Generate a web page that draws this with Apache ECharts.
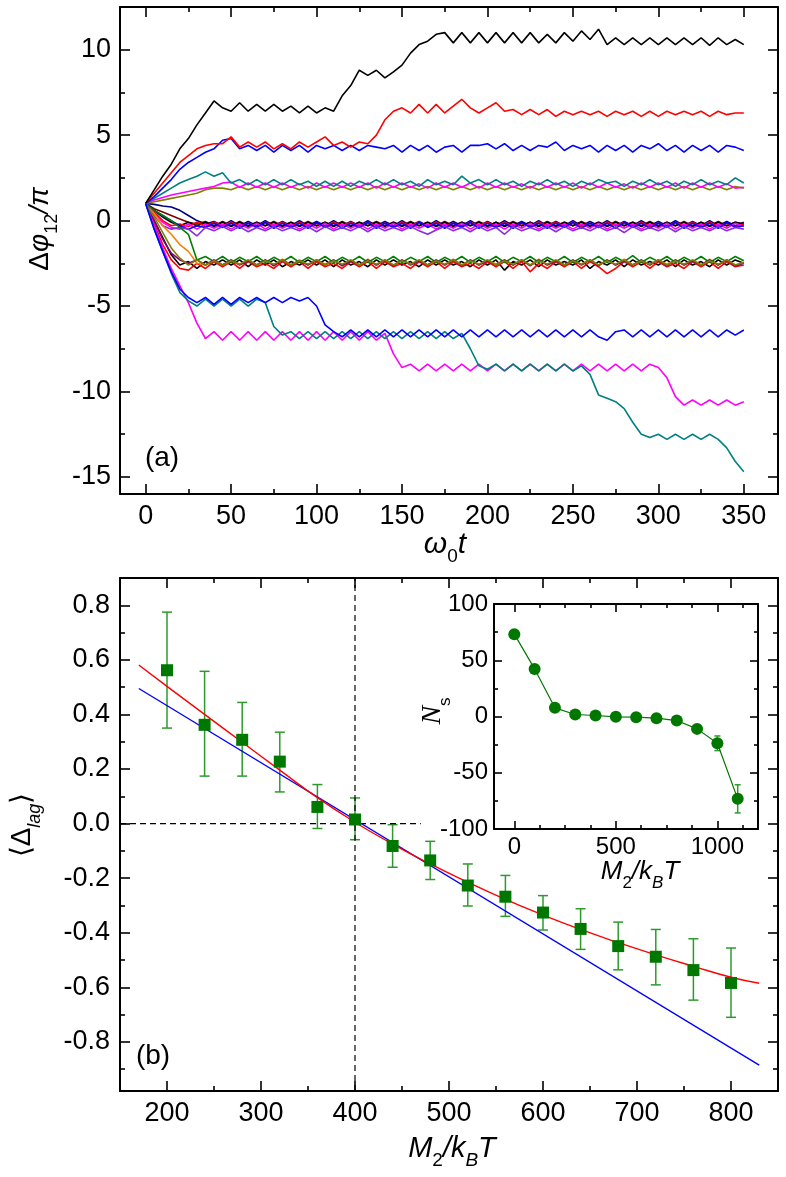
<!DOCTYPE html>
<html>
<head>
<meta charset="utf-8">
<script src="https://cdn.jsdelivr.net/npm/echarts@6/dist/echarts.min.js"></script>
<style>
html, body { margin: 0; padding: 0; background: #fff; }
#main { width: 786px; height: 1177px; }
</style>
</head>
<body>
<div id="main"></div>
<script>
// ---- panel (a): phase difference trajectories, sampled every 5 time units ----
const tGrid = [0,5,10,15,20,25,30,35,40,45,50,55,60,65,70,75,80,85,90,95,100,105,110,115,120,125,130,135,140,145,150,155,160,165,170,175,180,185,190,195,200,205,210,215,220,225,230,235,240,245,250,255,260,265,270,275,280,285,290,295,300,305,310,315,320,325,330,335,340,345,350];

const trajTopBlack = [
  1.0,1.8,2.6,3.3,4.2,4.8,5.6,6.3,7.0,6.6,
  6.4,6.9,6.4,6.8,6.4,6.8,6.4,6.7,6.3,6.7,
  6.3,6.6,6.4,7.3,7.9,8.8,8.5,8.8,8.35,8.7,
  9.1,9.8,10.3,10.5,10.9,11.0,10.4,11.0,10.4,11.0,
  10.4,11.0,10.4,11.0,10.4,11.0,10.4,10.9,10.4,11.0,
  10.5,11.1,10.6,11.2,10.3,10.7,10.3,10.7,10.3,10.7,
  10.3,10.7,10.3,10.7,10.3,10.7,10.25,10.7,10.3,10.6,
  10.3];
const trajTopRed = [
  1.0,1.6,2.2,2.8,3.4,3.8,4.2,4.4,4.5,4.5,
  4.9,4.3,4.6,4.3,4.6,4.2,4.5,4.2,4.6,4.3,
  4.6,4.9,4.4,4.6,4.3,4.6,4.5,5.0,5.9,6.4,
  6.6,6.3,6.8,6.3,6.8,6.3,6.7,7.1,6.6,6.3,
  6.6,6.9,6.4,6.5,6.2,6.5,6.2,6.5,6.1,6.4,
  6.2,6.4,6.2,6.4,6.1,6.4,6.2,6.4,6.1,6.4,
  6.1,6.4,6.2,6.4,6.2,6.4,6.1,6.4,6.2,6.3,
  6.3];
const trajTopBlue = [
  1.0,1.4,1.9,2.4,3.0,3.4,3.7,4.0,4.2,4.7,
  4.8,4.2,4.4,4.1,4.4,4.0,4.4,4.1,4.4,4.0,
  4.4,4.2,4.4,4.1,4.4,4.1,4.4,4.3,4.2,4.4,
  4.0,4.4,4.1,4.4,4.0,4.3,4.4,4.0,4.4,4.4,
  4.5,4.2,4.5,4.1,4.4,4.1,4.4,4.3,4.6,4.1,
  4.4,4.2,4.4,4.0,4.4,4.1,4.4,4.0,4.4,4.2,
  4.5,4.1,4.4,4.0,4.4,4.1,4.4,4.0,4.4,4.3,
  4.1];
const trajTopTeal = [
  1.0,1.3,1.6,1.9,2.2,2.4,2.6,2.85,2.6,2.8,
  2.2,2.4,2.1,2.4,2.1,2.4,2.1,2.4,2.1,2.3,
  2.0,2.3,2.0,2.3,2.0,2.3,2.1,2.4,2.1,2.4,
  2.1,2.3,2.0,2.4,2.1,2.3,2.1,2.6,2.2,2.4,
  2.1,2.4,2.1,2.3,2.0,2.3,2.1,2.4,2.1,2.3,
  2.0,2.3,2.1,2.4,2.2,2.3,2.0,2.3,2.1,2.4,
  2.1,2.3,2.0,2.3,2.1,2.4,2.1,2.3,2.1,2.5,
  2.2];
const trajTopMagenta = [
  1.0,1.2,1.35,1.5,1.6,1.7,1.8,1.9,2.0,2.2,
  2.25,1.95,2.2,1.95,2.2,1.95,2.2,1.95,2.15,1.9,
  2.2,1.95,2.2,1.95,2.2,1.95,2.2,1.9,2.2,1.95,
  2.2,1.95,2.15,1.9,2.2,1.95,2.2,1.95,2.2,1.9,
  2.2,1.95,2.2,1.95,2.15,1.9,2.2,1.95,2.2,1.95,
  2.2,1.9,2.2,1.95,2.2,1.95,2.15,1.9,2.2,1.95,
  2.2,1.95,2.2,1.9,2.2,1.95,2.2,1.95,2.15,1.9,
  1.95];
const trajTopOlive = [
  1.0,1.1,1.2,1.3,1.4,1.5,1.6,1.8,1.9,1.9,
  1.8,2.0,1.8,2.0,1.8,2.0,1.8,2.0,1.8,2.0,
  1.8,2.0,1.8,2.0,1.8,2.0,1.8,2.0,1.8,2.0,
  1.8,2.0,1.8,2.0,1.8,2.0,1.8,2.0,1.8,2.0,
  1.8,2.0,1.8,2.0,1.8,2.0,1.8,2.0,1.8,2.0,
  1.8,2.0,1.8,2.0,1.8,2.0,1.8,2.0,1.8,2.0,
  1.8,2.0,1.8,2.0,1.8,2.0,1.8,2.0,1.8,2.0,
  1.9];

const trajZeroNavy = [
  1.0,0.95,0.85,0.8,0.6,0.3,0.0,-0.2,-0.05,-0.3,
  0.0,-0.3,-0.05,-0.3,0.0,-0.3,-0.05,-0.3,0.0,-0.3,
  -0.05,-0.3,0.0,-0.3,-0.05,-0.3,0.0,-0.3,-0.05,-0.3,
  0.0,-0.3,-0.05,-0.3,0.0,-0.3,-0.05,-0.3,0.0,-0.3,
  -0.05,-0.3,0.0,-0.3,-0.05,-0.3,0.0,-0.3,-0.05,-0.3,
  0.0,-0.3,-0.05,-0.3,0.0,-0.3,-0.05,-0.3,0.0,-0.3,
  -0.05,-0.3,0.0,-0.3,-0.05,-0.3,0.0,-0.3,-0.05,-0.3,
  -0.1];
const trajZeroMaroon = [
  1.0,0.7,0.5,0.3,0.1,-0.1,-0.2,-0.05,-0.3,-0.05,
  -0.3,-0.05,-0.3,-0.1,-0.3,-0.05,-0.3,-0.1,-0.3,-0.05,
  -0.3,-0.1,-0.3,-0.05,-0.3,-0.1,-0.3,-0.05,-0.3,-0.1,
  -0.3,-0.05,-0.3,-0.1,-0.3,-0.05,-0.3,-0.1,-0.3,-0.05,
  -0.3,-0.1,-0.3,-0.05,-0.3,-0.1,-0.3,-0.05,-0.3,-0.1,
  -0.3,-0.05,-0.3,-0.1,-0.3,-0.05,-0.3,-0.1,-0.3,-0.05,
  -0.3,-0.1,-0.3,-0.05,-0.3,-0.1,-0.3,-0.05,-0.3,-0.1,
  -0.2];
const trajZeroBlack = [
  1.0,0.6,0.2,-0.1,-0.3,-0.1,-0.3,-0.1,-0.35,-0.1,
  -0.35,-0.1,-0.35,-0.1,-0.3,-0.1,-0.35,-0.1,-0.35,-0.1,
  -0.3,-0.1,-0.35,-0.1,-0.35,-0.1,-0.3,-0.1,-0.35,-0.1,
  -0.35,-0.1,-0.3,-0.1,-0.35,-0.1,-0.35,-0.1,-0.3,-0.1,
  -0.35,-0.1,-0.35,-0.1,-0.3,-0.1,-0.35,-0.1,-0.35,-0.1,
  -0.3,-0.1,-0.35,-0.1,-0.35,-0.1,-0.3,-0.1,-0.35,-0.1,
  -0.35,-0.1,-0.3,-0.1,-0.35,-0.1,-0.35,-0.1,-0.3,-0.1,
  -0.2];
const trajZeroRed = [
  1.0,0.5,0.0,-0.3,-0.2,-0.35,-0.1,-0.35,-0.1,-0.3,
  -0.1,-0.35,-0.15,-0.35,-0.1,-0.3,-0.1,-0.35,-0.1,-0.35,
  -0.15,-0.35,-0.1,-0.3,-0.1,-0.35,-0.1,-0.35,-0.15,-0.35,
  -0.1,-0.3,-0.1,-0.35,-0.1,-0.35,-0.15,-0.35,-0.1,-0.3,
  -0.1,-0.35,-0.1,-0.35,-0.15,-0.35,-0.1,-0.3,-0.1,-0.35,
  -0.1,-0.35,-0.15,-0.35,-0.1,-0.3,-0.1,-0.35,-0.1,-0.35,
  -0.15,-0.35,-0.1,-0.3,-0.1,-0.35,-0.1,-0.35,-0.15,-0.35,
  -0.2];
const trajZeroMagenta = [
  1.0,0.4,-0.1,-0.4,-0.5,-0.2,-0.5,-0.2,-0.45,-0.2,
  -0.5,-0.2,-0.45,-0.15,-0.5,-0.2,-0.45,-0.2,-0.5,-0.2,
  -0.45,-0.15,-0.5,-0.2,-0.45,-0.2,-0.5,-0.2,-0.45,-0.15,
  -0.5,-0.2,-0.45,-0.2,-0.5,-0.2,-0.45,-0.15,-0.5,-0.2,
  -0.45,-0.2,-0.5,-0.2,-0.45,-0.15,-0.5,-0.2,-0.45,-0.2,
  -0.5,-0.2,-0.45,-0.15,-0.5,-0.2,-0.45,-0.2,-0.5,-0.2,
  -0.45,-0.15,-0.5,-0.2,-0.45,-0.2,-0.5,-0.2,-0.45,-0.15,
  -0.35];
const trajZeroBlue = [
  1.0,0.6,0.3,0.0,-0.3,-0.5,-0.3,-0.4,-0.15,-0.4,
  -0.15,-0.45,-0.15,-0.4,-0.1,-0.45,-0.15,-0.4,-0.15,-0.45,
  -0.1,-0.4,-0.15,-0.45,-0.15,-0.4,-0.1,-0.45,-0.15,-0.4,
  -0.15,-0.45,-0.1,-0.4,-0.15,-0.45,-0.15,-0.4,-0.1,-0.45,
  -0.15,-0.4,-0.15,-0.45,-0.1,-0.4,-0.15,-0.45,-0.15,-0.4,
  -0.1,-0.45,-0.15,-0.4,-0.15,-0.45,-0.1,-0.4,-0.15,-0.45,
  -0.15,-0.4,-0.1,-0.45,-0.15,-0.4,-0.15,-0.45,-0.1,-0.4,
  -0.3];
const trajZeroViolet = [
  1.0,0.3,-0.3,-0.5,-0.4,-0.5,-0.9,-0.4,-0.6,-0.35,
  -0.6,-0.35,-0.65,-0.4,-0.6,-0.35,-0.6,-0.4,-0.6,-0.35,
  -0.65,-0.35,-0.6,-0.4,-0.6,-0.35,-0.65,-0.35,-0.6,-0.4,
  -0.6,-0.35,-0.6,-0.8,-0.55,-0.35,-0.6,-0.4,-0.65,-0.35,
  -0.6,-0.4,-0.8,-0.35,-0.6,-0.4,-0.6,-0.35,-0.65,-0.35,
  -0.6,-0.4,-0.6,-0.35,-0.6,-0.4,-0.7,-0.35,-0.6,-0.4,
  -0.6,-0.35,-0.65,-0.35,-0.6,-0.4,-0.6,-0.35,-0.6,-0.4,
  -0.5];

const trajMinusBlack = [
  1.0,0.0,-1.0,-2.0,-2.6,-2.4,-2.8,-2.4,-2.6,-2.3,
  -2.6,-2.3,-2.7,-2.3,-2.6,-2.3,-2.7,-2.4,-2.6,-2.3,
  -2.6,-2.3,-2.7,-2.3,-2.6,-2.4,-2.7,-2.3,-2.6,-2.3,
  -2.6,-2.4,-2.7,-2.3,-2.6,-2.3,-2.6,-2.4,-2.7,-2.3,
  -2.6,-2.3,-2.9,-2.4,-2.6,-2.3,-2.7,-2.3,-2.6,-2.4,
  -2.6,-2.3,-2.8,-2.4,-2.6,-2.3,-2.7,-2.3,-2.6,-2.4,
  -2.6,-2.3,-2.7,-2.3,-2.6,-2.4,-2.7,-2.3,-2.6,-2.3,
  -2.5];
const trajMinusRed = [
  1.0,-0.2,-1.4,-2.3,-2.8,-2.9,-2.5,-2.8,-2.4,-2.7,
  -2.4,-2.8,-2.4,-2.7,-2.5,-2.8,-2.4,-2.7,-2.4,-2.8,
  -2.4,-2.7,-2.5,-2.8,-2.4,-2.7,-2.4,-2.8,-2.4,-2.7,
  -2.5,-2.8,-2.4,-2.7,-2.4,-2.8,-2.4,-2.7,-2.5,-2.8,
  -2.4,-2.7,-2.4,-2.8,-2.4,-3.0,-2.5,-2.8,-2.4,-2.7,
  -2.4,-2.8,-2.4,-2.7,-3.1,-2.8,-2.4,-2.7,-2.4,-2.8,
  -2.4,-2.7,-2.5,-2.8,-2.4,-2.7,-2.4,-2.8,-2.4,-2.7,
  -2.6];
const trajMinusOrange = [
  1.0,0.4,-0.3,-0.8,-1.4,-1.8,-2.5,-2.6,-2.3,-2.6,
  -2.3,-2.55,-2.3,-2.6,-2.3,-2.6,-2.25,-2.6,-2.3,-2.6,
  -2.3,-2.55,-2.3,-2.6,-2.3,-2.6,-2.25,-2.6,-2.3,-2.6,
  -2.3,-2.55,-2.3,-2.6,-2.3,-2.6,-2.25,-2.6,-2.3,-2.6,
  -2.3,-2.55,-2.3,-2.6,-2.3,-2.6,-2.25,-2.6,-2.3,-2.6,
  -2.3,-2.55,-2.3,-2.6,-2.3,-2.6,-2.25,-2.6,-2.3,-2.6,
  -2.3,-2.55,-2.3,-2.6,-2.3,-2.6,-2.25,-2.6,-2.3,-2.6,
  -2.45];
const trajMinusGreen = [
  1.0,0.6,0.3,0.0,-0.4,-0.8,-2.3,-2.1,-2.4,-2.1,
  -2.45,-2.15,-2.4,-2.1,-2.45,-2.15,-2.4,-2.1,-2.45,-2.15,
  -2.4,-2.1,-2.45,-2.15,-2.4,-2.1,-2.45,-2.15,-2.4,-2.1,
  -2.45,-2.15,-2.4,-2.1,-2.45,-2.15,-2.4,-2.1,-2.45,-2.15,
  -2.4,-2.1,-2.45,-2.15,-2.4,-2.1,-2.45,-2.15,-2.4,-2.1,
  -2.45,-2.15,-2.4,-2.1,-2.45,-2.15,-2.4,-2.05,-2.45,-2.15,
  -2.4,-2.1,-2.45,-2.15,-2.4,-2.1,-2.45,-2.15,-2.4,-2.1,
  -2.35];
const trajMinusPurple = [
  1.0,0.0,-1.1,-1.9,-2.3,-2.5,-2.3,-2.6,-2.3,-2.6,
  -2.3,-2.6,-2.35,-2.6,-2.3,-2.65,-2.3,-2.6,-2.35,-2.6,
  -2.3,-2.6,-2.3,-2.65,-2.35,-2.6,-2.3,-2.6,-2.3,-2.65,
  -2.3,-2.6,-2.35,-2.6,-2.3,-2.6,-2.3,-2.65,-2.3,-2.6,
  -2.35,-2.6,-2.3,-2.6,-2.3,-2.65,-2.3,-2.6,-2.35,-2.6,
  -2.3,-2.6,-2.3,-2.65,-2.3,-2.6,-2.35,-2.6,-2.3,-2.6,
  -2.3,-2.65,-2.3,-2.6,-2.35,-2.6,-2.3,-2.6,-2.3,-2.65,
  -2.5];
const trajMinusOlive = [
  1.0,0.2,-0.7,-1.6,-2.2,-2.6,-2.3,-2.6,-2.35,-2.6,
  -2.35,-2.55,-2.3,-2.6,-2.35,-2.55,-2.3,-2.6,-2.35,-2.55,
  -2.3,-2.6,-2.35,-2.55,-2.3,-2.6,-2.35,-2.55,-2.3,-2.6,
  -2.35,-2.55,-2.3,-2.6,-2.35,-2.55,-2.3,-2.6,-2.35,-2.55,
  -2.3,-2.6,-2.35,-2.55,-2.3,-2.6,-2.35,-2.55,-2.3,-2.6,
  -2.35,-2.55,-2.3,-2.6,-2.35,-2.55,-2.3,-2.6,-2.35,-2.55,
  -2.3,-2.6,-2.35,-2.55,-2.3,-2.6,-2.35,-2.55,-2.3,-2.6,
  -2.45];

const trajLowBlue = [
  1.0,-0.5,-1.8,-3.0,-4.0,-4.5,-4.8,-4.5,-4.9,-4.5,
  -4.9,-4.5,-4.8,-4.5,-4.8,-4.5,-4.8,-4.5,-4.7,-4.5,
  -5.0,-6.1,-6.5,-6.8,-6.4,-6.8,-6.4,-6.8,-6.4,-6.8,
  -6.4,-6.8,-6.4,-6.8,-6.4,-6.8,-6.4,-6.8,-6.4,-6.8,
  -6.4,-6.8,-6.4,-6.8,-6.4,-6.8,-6.4,-6.8,-6.4,-6.8,
  -6.4,-6.8,-6.4,-6.8,-7.0,-6.5,-6.4,-6.8,-6.4,-6.8,
  -6.4,-6.8,-6.4,-6.8,-6.4,-6.8,-6.4,-6.8,-6.4,-6.7,
  -6.4];
const trajLowTeal = [
  1.0,-0.5,-1.8,-3.1,-4.2,-4.7,-5.0,-4.6,-5.0,-4.6,
  -5.0,-4.6,-5.0,-4.6,-4.8,-6.2,-6.7,-6.5,-6.9,-6.5,
  -6.9,-6.5,-6.9,-6.5,-6.9,-6.5,-6.9,-6.5,-6.9,-6.5,
  -6.9,-6.5,-6.9,-6.5,-6.9,-6.5,-6.9,-6.6,-7.5,-8.5,
  -8.7,-8.4,-8.8,-8.4,-8.8,-8.4,-8.8,-8.4,-8.8,-8.4,
  -8.8,-8.5,-9.0,-10.2,-10.4,-10.6,-11.0,-11.8,-12.5,-12.7,
  -12.5,-12.8,-12.5,-12.8,-12.5,-12.8,-12.5,-12.8,-13.3,-14.1,
  -14.7];
const trajLowMagenta = [
  1.0,-0.3,-1.6,-2.8,-3.8,-4.8,-6.0,-6.9,-6.5,-7.0,
  -6.5,-7.0,-6.5,-7.0,-6.5,-7.0,-6.5,-7.0,-6.5,-7.0,
  -6.5,-7.0,-6.5,-7.0,-6.5,-7.0,-6.5,-7.0,-6.6,-7.8,
  -8.6,-8.4,-8.8,-8.4,-8.8,-8.4,-8.8,-8.4,-8.8,-8.4,
  -8.8,-8.4,-8.8,-8.4,-8.8,-8.4,-8.8,-8.4,-8.8,-8.4,
  -8.8,-8.4,-8.8,-8.4,-8.8,-8.4,-8.8,-8.4,-8.8,-8.4,
  -8.6,-9.2,-10.3,-10.8,-10.5,-10.8,-10.5,-10.8,-10.5,-10.8,
  -10.6];

const trajectories = [
  trajZeroNavy, trajZeroMaroon, trajZeroBlack, trajZeroRed, trajZeroMagenta, trajZeroBlue, trajZeroViolet,
  trajMinusBlack, trajMinusRed, trajMinusOrange, trajMinusGreen, trajMinusPurple, trajMinusOlive,
  trajTopOlive, trajTopMagenta, trajTopTeal, trajTopBlue, trajTopRed, trajTopBlack,
  trajLowMagenta, trajLowTeal, trajLowBlue
];
const trajColors = [
  '#000080', '#800000', '#000000', '#ff0000', '#ff00ff', '#0000ff', '#8a2be2',
  '#000000', '#ff0000', '#ff8000', '#008000', '#800080', '#808000',
  '#808000', '#ff00ff', '#008080', '#0000ff', '#ff0000', '#000000',
  '#ff00ff', '#008080', '#0000ff'
];

// ---- panel (b): mean lag vs M2/kBT ----
const lagX = [200,240,280,320,360,400,440,480,520,560,600,640,680,720,760,800];
const lagY = [0.562,0.362,0.307,0.227,0.061,0.015,-0.082,-0.135,-0.227,-0.268,-0.326,-0.386,-0.449,-0.488,-0.537,-0.584];
const lagHi = [0.775,0.558,0.444,0.335,0.143,0.094,-0.004,-0.065,-0.148,-0.19,-0.264,-0.312,-0.361,-0.388,-0.422,-0.456];
const lagLo = [0.35,0.174,0.174,0.116,-0.018,-0.059,-0.16,-0.205,-0.302,-0.34,-0.39,-0.461,-0.536,-0.591,-0.647,-0.71];

const redFitX = [170,200,240,280,320,360,400,440,480,520,560,600,640,680,720,760,800,830];
const redFitY = [0.581,0.503,0.400,0.298,0.196,0.095,0.005,-0.075,-0.148,-0.215,-0.278,-0.335,-0.388,-0.436,-0.481,-0.523,-0.563,-0.585];
const blueFitX = [170,830];
const blueFitY = [0.495,-0.885];

const refHorizX = [150,470];
const refHorizY = [0,0];
const refVertX = [400,400];
const refVertY = [-0.98,0.9];

// ---- inset: Ns vs M2/kBT ----
const nsX = [0,100,200,300,400,500,600,700,800,900,1000,1100];
const nsY = [73.2,42.3,7.7,1.8,0.9,-0.3,-0.6,-1.5,-3.6,-11,-23.8,-73.2];
const nsErr = [0,0,0,0,0,0,0,0,0,1.5,6.5,12.5];

// tick values
const aXMajor = [0,50,100,150,200,250,300,350];
const aXMinor = [25,75,125,175,225,275,325];
const aYMajor = [-15,-10,-5,0,5,10];
const aYMinor = [-12.5,-7.5,-2.5,2.5,7.5];
const bXMajor = [200,300,400,500,600,700,800];
const bXMinor = [250,350,450,550,650,750];
const bYMajor = [-0.8,-0.6,-0.4,-0.2,0,0.2,0.4,0.6,0.8];
const bYMinor = [-0.9,-0.7,-0.5,-0.3,-0.1,0.1,0.3,0.5,0.7];
const cXMajor = [0,500,1000];
const cXMinor = [125,250,375,625,750,875,1125];
const cYMajor = [-100,-50,0,50,100];
const cYMinor = [-75,-25,25,75];

const FONT = 'Liberation Sans, Arial, sans-serif';
const zip = (xs, ys) => xs.map((x, i) => [x, ys[i]]);
const plain = v => String(v);

// four axes per side pair: labelled major, minor, mirrored major, mirrored minor
function frameAxes(dim, grid, min, max, majors, minors, label, len) {
  const line = { show: true, onZero: false, lineStyle: { color: '#000', width: 2 } };
  const base = { gridIndex: grid, type: 'value', min: min, max: max, splitLine: { show: false } };
  const tick = (vals, l) => ({ show: true, inside: true, length: l, customValues: vals, lineStyle: { color: '#000', width: 1.6 } });
  const p1 = dim === 'x' ? 'bottom' : 'left';
  const p2 = dim === 'x' ? 'top' : 'right';
  return [
    Object.assign({}, base, { position: p1, axisLine: line, axisTick: tick(majors, len), axisLabel: label }),
    Object.assign({}, base, { position: p1, axisLine: { show: false, onZero: false }, axisTick: tick(minors, len / 2), axisLabel: { show: false } }),
    Object.assign({}, base, { position: p2, axisLine: line, axisTick: tick(majors, len), axisLabel: { show: false } }),
    Object.assign({}, base, { position: p2, axisLine: { show: false, onZero: false }, axisTick: tick(minors, len / 2), axisLabel: { show: false } })
  ];
}

function lbl(vals, size, margin, fmt) {
  return { show: true, customValues: vals, color: '#000', fontFamily: FONT, fontSize: size, margin: margin, formatter: fmt || plain };
}

function errorBars(capHalf, color) {
  return function (params, api) {
    const x = api.value(0);
    const p1 = api.coord([x, api.value(1)]);
    const p2 = api.coord([x, api.value(2)]);
    const st = { stroke: color, lineWidth: 1.5 };
    return {
      type: 'group',
      children: [
        { type: 'line', shape: { x1: p1[0], y1: p1[1], x2: p2[0], y2: p2[1] }, style: st },
        { type: 'line', shape: { x1: p1[0] - capHalf, y1: p1[1], x2: p1[0] + capHalf, y2: p1[1] }, style: st },
        { type: 'line', shape: { x1: p2[0] - capHalf, y1: p2[1], x2: p2[0] + capHalf, y2: p2[1] }, style: st }
      ]
    };
  };
}

const xAxes = [].concat(
  frameAxes('x', 0, -15, 370, aXMajor, aXMinor, lbl(aXMajor, 27, 9), 10),
  frameAxes('x', 1, 150, 850, bXMajor, bXMinor, lbl(bXMajor, 27, 9), 10),
  frameAxes('x', 2, -100, 1200, cXMajor, cXMinor, lbl(cXMajor, 24, 6), 8)
);
const yAxes = [].concat(
  frameAxes('y', 0, -16, 12.5, aYMajor, aYMinor, lbl(aYMajor, 27, 9), 10),
  frameAxes('y', 1, -0.98, 0.9, bYMajor, bYMinor, lbl(bYMajor, 27, 10, v => v.toFixed(1)), 10),
  frameAxes('y', 2, -100, 100, cYMajor, cYMinor, lbl(cYMajor, 24, 6), 8)
);

const series = [];
trajectories.forEach((tr, k) => {
  series.push({
    type: 'line', xAxisIndex: 0, yAxisIndex: 0, showSymbol: false, symbol: 'none',
    data: zip(tGrid, tr), lineStyle: { color: trajColors[k], width: 1.6 }, z: 2
  });
});
series.push(
  { type: 'line', xAxisIndex: 4, yAxisIndex: 4, symbol: 'none', data: zip(refHorizX, refHorizY),
    lineStyle: { color: '#000', width: 1.2, type: [6, 4] } },
  { type: 'line', xAxisIndex: 4, yAxisIndex: 4, symbol: 'none', data: zip(refVertX, refVertY),
    lineStyle: { color: '#000', width: 1.2, type: [6, 4] } },
  { type: 'line', xAxisIndex: 4, yAxisIndex: 4, symbol: 'none', data: zip(blueFitX, blueFitY),
    lineStyle: { color: '#0000ff', width: 1.4 } },
  { type: 'line', xAxisIndex: 4, yAxisIndex: 4, symbol: 'none', smooth: true, data: zip(redFitX, redFitY),
    lineStyle: { color: '#ff0000', width: 1.4 } },
  { type: 'custom', xAxisIndex: 4, yAxisIndex: 4, renderItem: errorBars(5, '#2e9a2e'),
    encode: { x: 0, y: [1, 2] }, data: lagX.map((x, i) => [x, lagLo[i], lagHi[i]]), z: 3 },
  { type: 'scatter', xAxisIndex: 4, yAxisIndex: 4, symbol: 'rect', symbolSize: 12,
    itemStyle: { color: '#007800', opacity: 1 }, data: zip(lagX, lagY), z: 4 },
  { type: 'custom', xAxisIndex: 8, yAxisIndex: 8, renderItem: errorBars(3, '#2e9a2e'),
    encode: { x: 0, y: [1, 2] }, data: nsX.map((x, i) => [x, nsY[i] - nsErr[i], nsY[i] + nsErr[i]]), z: 3 },
  { type: 'line', xAxisIndex: 8, yAxisIndex: 8, symbol: 'circle', symbolSize: 12, showSymbol: true,
    data: zip(nsX, nsY), lineStyle: { color: '#007800', width: 1.2 }, itemStyle: { color: '#007800' }, z: 4 }
);

const rich = (big, small) => ({
  up: { fontFamily: FONT, fontSize: big, fill: '#000', verticalAlign: 'bottom', padding: [0, 0, 7, 0] },
  it: { fontFamily: FONT, fontSize: big, fontStyle: 'italic', fill: '#000', verticalAlign: 'bottom', padding: [0, 0, 7, 0] },
  ser: { fontFamily: 'Liberation Serif, serif', fontSize: big + 2, fontStyle: 'italic', fill: '#000', verticalAlign: 'bottom', padding: [0, 0, 7, 0] },
  sub: { fontFamily: FONT, fontSize: small, fill: '#000', verticalAlign: 'bottom' },
  subi: { fontFamily: FONT, fontSize: small, fontStyle: 'italic', fill: '#000', verticalAlign: 'bottom' }
});
function title(x, y, text, big, small, rot) {
  return { type: 'text', x: x, y: y, rotation: rot || 0, z: 10,
    style: { text: text, rich: rich(big, small), align: 'center', verticalAlign: 'middle', fill: '#000' } };
}

const option = {
  animation: false,
  backgroundColor: '#ffffff',
  grid: [
    { left: 120, top: 7, width: 658, height: 487 },
    { left: 120, top: 578, width: 658, height: 513 },
    { left: 494, top: 604, width: 264, height: 225 }
  ],
  xAxis: xAxes,
  yAxis: yAxes,
  series: series,
  graphic: [
    title(445, 548, '{it|ω}{sub|0}{it|t}', 30, 19),
    title(44, 229, '{up|Δ}{it|φ}{sub|12}{it|/π}', 28, 18, Math.PI / 2),
    title(452, 1152, '{it|M}{sub|2}{it|/k}{subi|B}{it|T}', 29, 19),
    title(26, 825, '{up|⟨Δ}{subi|lag}{up|⟩}', 28, 18, Math.PI / 2),
    title(640, 875, '{it|M}{sub|2}{it|/k}{subi|B}{it|T}', 26, 17),
    title(436, 711, '{ser|N}{sub|s}', 26, 17, Math.PI / 2),
    { type: 'text', x: 162, y: 458, z: 10, style: { text: '(a)', fontFamily: FONT, fontSize: 28, fill: '#000', align: 'center', verticalAlign: 'middle' } },
    { type: 'text', x: 153, y: 1056, z: 10, style: { text: '(b)', fontFamily: FONT, fontSize: 28, fill: '#000', align: 'center', verticalAlign: 'middle' } }
  ]
};

const chart = echarts.init(document.getElementById('main'), null, { renderer: 'canvas' });
chart.setOption(option);
</script>
</body>
</html>
